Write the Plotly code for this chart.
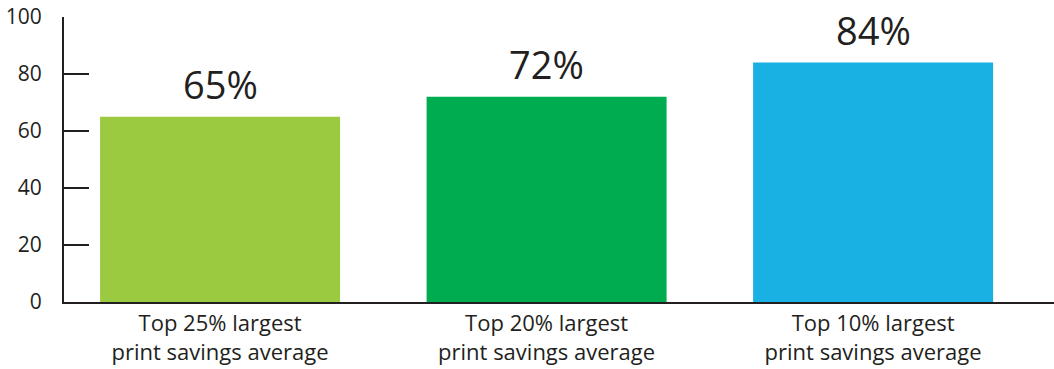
import plotly.graph_objects as go

categories = ["Top 25% largest<br>print savings average",
              "Top 20% largest<br>print savings average",
              "Top 10% largest<br>print savings average"]
values = [65, 72, 84]
labels = ["65%", "72%", "84%"]
colors = ["#9BC93F", "#00AC50", "#19B0E4"]

fig = go.Figure(go.Bar(
    x=[0, 1, 2], y=values, width=0.735,
    marker=dict(color=colors, line=dict(width=0)),
    cliponaxis=False, hoverinfo="skip",
))

for i, (v, lab) in enumerate(zip(values, labels)):
    fig.add_annotation(x=i, y=v, xref="x", yref="y", text=lab, showarrow=False,
                       yanchor="bottom", yshift=5,
                       font=dict(size=38, color="#231F20", family="Open Sans"))

fig.update_layout(
    width=1054, height=369,
    margin=dict(l=64, r=0, t=17, b=67, autoexpand=False),
    paper_bgcolor="white", plot_bgcolor="white",
    showlegend=False,
    font=dict(family="Open Sans", color="#231F20"),
    xaxis=dict(range=[-0.478, 2.554], tickmode="array", tickvals=[0, 1, 2],
               ticktext=categories, showline=True, linecolor="#231F20", linewidth=2,
               ticks="", showgrid=False, zeroline=False, automargin=False,
               ticklabelstandoff=1,
               tickfont=dict(size=22, color="#231F20")),
    yaxis=dict(range=[0, 100], tickvals=[0, 20, 40, 60, 80, 100],
               showline=True, linecolor="#231F20", linewidth=2,
               ticks="inside", ticklen=25, tickwidth=2, tickcolor="#231F20",
               showgrid=False, zeroline=False, ticklabelstandoff=16, automargin=False,
               tickfont=dict(size=21, color="#231F20")),
)

fig.write_html("out.html", config={"displayModeBar": False},
               post_script="document.body.style.margin='0';")
